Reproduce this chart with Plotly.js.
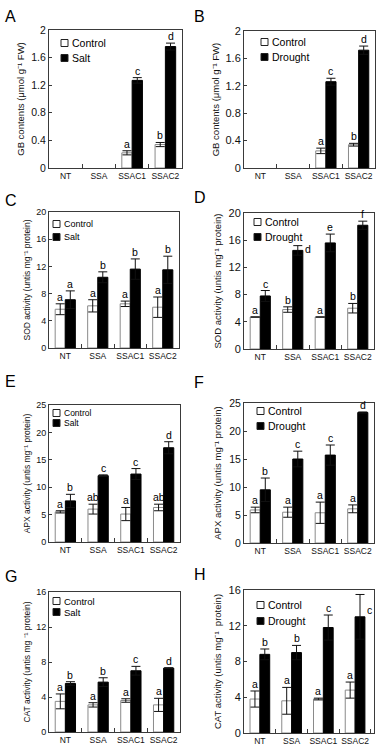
<!DOCTYPE html>
<html><head><meta charset="utf-8">
<script src="https://cdn.plot.ly/plotly-3.0.1.min.js"></script>
<style>html,body{margin:0;padding:0;background:#fff}#chart{width:378px;height:748px}</style>
</head><body><div id="chart"></div>
<script>
const categories = ["NT", "SSA", "SSAC1", "SSAC2"];

// A: GB contents, salt
const gbSaltCtrl = [null, null, 0.22, 0.34];
const gbSaltCtrlErr = [0, 0, 0.03, 0.03];
const gbSalt = [null, null, 1.27, 1.76];
const gbSaltErr = [0, 0, 0.04, 0.05];
const gbSaltCtrlLetters = ["", "", "a", "b"];
const gbSaltLetters = ["", "", "c", "d"];

// B: GB contents, drought
const gbDrCtrl = [null, null, 0.25, 0.34];
const gbDrCtrlErr = [0, 0, 0.04, 0.02];
const gbDr = [null, null, 1.26, 1.72];
const gbDrErr = [0, 0, 0.05, 0.06];
const gbDrCtrlLetters = ["", "", "a", "b"];
const gbDrLetters = ["", "", "c", "d"];

// C: SOD, salt
const sodSaltCtrl = [5.7, 6.2, 6.5, 6.0];
const sodSaltCtrlErr = [0.8, 0.9, 0.4, 1.5];
const sodSalt = [7.1, 10.4, 11.6, 11.5];
const sodSaltErr = [1.3, 0.8, 1.5, 2.0];
const sodSaltCtrlLetters = ["a", "a", "a", "a"];
const sodSaltLetters = ["a", "b", "b", "b"];

// D: SOD, drought
const sodDrCtrl = [4.7, 5.8, 4.7, 6.0];
const sodDrCtrlErr = [0, 0.4, 0, 0.7];
const sodDr = [7.8, 14.5, 15.6, 18.2];
const sodDrErr = [0.8, 0.7, 1.3, 0.6];
const sodDrCtrlLetters = ["a", "b", "a", "b"];
const sodDrLetters = ["c", "d", "e", "f"];

// E: APX, salt
const apxSaltCtrl = [5.5, 6.0, 5.1, 6.3];
const apxSaltCtrlErr = [0.2, 0.9, 1.2, 0.6];
const apxSalt = [7.5, 12.1, 12.4, 17.2];
const apxSaltErr = [1.2, 0.15, 1.0, 1.1];
const apxSaltCtrlLetters = ["a", "ab", "a", "ab"];
const apxSaltLetters = ["b", "c", "c", "d"];

// F: APX, drought
const apxDrCtrl = [5.9, 5.5, 5.4, 6.1];
const apxDrCtrlErr = [0.5, 0.9, 1.9, 0.7];
const apxDr = [9.5, 15.0, 15.7, 23.3];
const apxDrErr = [2.1, 1.4, 1.8, 0.1];
const apxDrCtrlLetters = ["a", "a", "a", "a"];
const apxDrLetters = ["b", "c", "c", "d"];

// G: CAT, salt
const catSaltCtrl = [3.5, 3.1, 3.6, 3.1];
const catSaltCtrlErr = [0.85, 0.25, 0.2, 0.75];
const catSalt = [5.55, 5.7, 7.0, 7.3];
const catSaltErr = [0.2, 0.5, 0.5, 0.05];
const catSaltCtrlLetters = ["a", "a", "a", "a"];
const catSaltLetters = ["b", "b", "c", "d"];

// H: CAT, drought
const catDrCtrl = [3.8, 3.6, 3.8, 4.8];
const catDrCtrlErr = [0.9, 1.5, 0.1, 0.9];
const catDr = [8.8, 9.0, 11.8, 13.0];
const catDrErr = [0.6, 0.8, 1.4, 2.5];
const catDrCtrlLetters = ["a", "a", "a", "a"];
const catDrLetters = ["b", "b", "c", "c"];

const yTitles = {
  gb: "GB contents (μmol g\u207B\u00B9 FW)",
  sod: "SOD activity (untis mg\u207B\u00B9 protein)",
  apx: "APX activity (untis mg\u207B\u00B9 protein)",
  catS: "CAT activity (untis mg \u207B\u00B9 protein)",
  catD: "CAT activity (untis mg\u207B\u00B9  protein)"
};
const treatNames = ["Control", "Salt", "Drought"];

// ---- layout / presentation ----
const W = 378, H = 748;
const FONT = "Liberation Sans, Arial, sans-serif";
const px = v => v / W;
const py = v => 1 - v / H;

const panels = [
  {letter:"A", lx:3, ly:6, box:[49,182,30,168], range:[0,2], dtick:0.4, title:yTitles.gb, tf:9.5, tk:10.5, xf:8.5, stand:4,
   c:gbSaltCtrl, ce:gbSaltCtrlErr, t:gbSalt, te:gbSaltErr, cl:gbSaltCtrlLetters, tl:gbSaltLetters, tname:treatNames[1],
   leg:{sx:61, y1:43, y2:58, fs:10.5}},
  {letter:"B", lx:192, ly:6, box:[244,375,31,168], range:[0,2], dtick:0.4, title:yTitles.gb, tf:9.5, tk:11, xf:8.5, stand:4,
   c:gbDrCtrl, ce:gbDrCtrlErr, t:gbDr, te:gbDrErr, cl:gbDrCtrlLetters, tl:gbDrLetters, tname:treatNames[2],
   leg:{sx:261, y1:42, y2:57, fs:10.5}},
  {letter:"C", lx:3, ly:190, box:[49,179,212,348], range:[0,20], dtick:4, title:yTitles.sod, tf:8.5, tk:9, xf:8.5, stand:4,
   c:sodSaltCtrl, ce:sodSaltCtrlErr, t:sodSalt, te:sodSaltErr, cl:sodSaltCtrlLetters, tl:sodSaltLetters, tname:treatNames[1],
   leg:{sx:53, y1:224, y2:237, fs:9}},
  {letter:"D", lx:192, ly:187, box:[244,374,213,349], range:[0,20], dtick:4, title:yTitles.sod, tf:9.5, tk:11, xf:8.5, stand:5,
   c:sodDrCtrl, ce:sodDrCtrlErr, t:sodDr, te:sodDrErr, cl:sodDrCtrlLetters, tl:sodDrLetters, tname:treatNames[2],
   leg:{sx:254, y1:222, y2:237, fs:10.5}, side:{t:[1]}},
  {letter:"E", lx:3, ly:371, box:[49,180,405,542], range:[0,25], dtick:5, title:yTitles.apx, tf:8.5, tk:9, xf:8.5, stand:4,
   c:apxSaltCtrl, ce:apxSaltCtrlErr, t:apxSalt, te:apxSaltErr, cl:apxSaltCtrlLetters, tl:apxSaltLetters, tname:treatNames[1],
   leg:{sx:53, y1:413, y2:423, fs:8.5}},
  {letter:"F", lx:192, ly:372, box:[244,374,403,543], range:[0,25], dtick:5, title:yTitles.apx, tf:9.5, tk:10.5, xf:8.5, stand:5,
   c:apxDrCtrl, ce:apxDrCtrlErr, t:apxDr, te:apxDrErr, cl:apxDrCtrlLetters, tl:apxDrLetters, tname:treatNames[2],
   leg:{sx:257, y1:411, y2:426, fs:10.5}},
  {letter:"G", lx:3, ly:566, box:[49,180,592,732], range:[0,16], dtick:4, title:yTitles.catS, tf:8.5, tk:9, xf:8.5, stand:4,
   c:catSaltCtrl, ce:catSaltCtrlErr, t:catSalt, te:catSaltErr, cl:catSaltCtrlLetters, tl:catSaltLetters, tname:treatNames[1],
   leg:{sx:53, y1:601, y2:612, fs:9.5}},
  {letter:"H", lx:192, ly:564, box:[244,374,590,733], range:[0,16], dtick:4, title:yTitles.catD, tf:9.5, tk:11, xf:8.5, stand:5,
   c:catDrCtrl, ce:catDrCtrlErr, t:catDr, te:catDrErr, cl:catDrCtrlLetters, tl:catDrLetters, tname:treatNames[2],
   leg:{sx:257, y1:605, y2:621, fs:10.5}, side:{t:[3]}}
];

const BARGAP = 0.38;
const OFF = (1 - BARGAP) / 4;
const AX = "#3a3a3a";

const data = [];
const layout = {
  width: W, height: H,
  margin: {l:0, r:0, t:0, b:0},
  paper_bgcolor: "#fff", plot_bgcolor: "#fff",
  barmode: "group", bargap: BARGAP, bargroupgap: 0,
  showlegend: false,
  font: {family: FONT, color: "#111"},
  annotations: [], shapes: []
};

panels.forEach((p, k) => {
  const n = k + 1;
  const xs = n === 1 ? "" : String(n);
  const xa = "x" + xs, ya = "y" + xs;
  data.push({
    type: "bar", x: categories, y: p.c, name: treatNames[0], xaxis: xa, yaxis: ya,
    marker: {color: "#ffffff", line: {color: "#8a8a8a", width: 1}},
    error_y: {type: "data", array: p.ce, visible: true, color: "#111", thickness: 1, width: 4.5}
  });
  data.push({
    type: "bar", x: categories, y: p.t, name: p.tname, xaxis: xa, yaxis: ya,
    marker: {color: "#000000", line: {color: "#000", width: 1}},
    error_y: {type: "data", array: p.te, visible: true, color: "#111", thickness: 1, width: 4.5}
  });
  const [x0, x1, y0, y1] = p.box;
  layout["xaxis" + xs] = {
    domain: [px(x0), px(x1)], anchor: ya, type: "category",
    showline: true, mirror: true, linecolor: AX, linewidth: 1,
    ticks: "inside", tickson: "boundaries", ticklen: 4, tickcolor: AX,
    tickangle: 0,
    tickfont: {size: p.xf, family: FONT, color: "#111"},
    showgrid: false, zeroline: false, fixedrange: true, automargin: false
  };
  layout["yaxis" + xs] = {
    domain: [py(y1), py(y0)], anchor: xa, range: p.range, tick0: 0, dtick: p.dtick,
    showline: true, mirror: true, linecolor: AX, linewidth: 1,
    ticks: "inside", ticklen: 3, tickcolor: AX,
    tickfont: {size: p.tk, family: FONT, color: "#111"},
    showgrid: false, zeroline: false, fixedrange: true, automargin: false,
    title: {text: p.title, font: {size: p.tf, family: FONT, color: "#111"}, standoff: p.stand}
  };
  // panel letter
  layout.annotations.push({
    xref: "paper", yref: "paper", x: px(p.lx), y: py(p.ly), xanchor: "left", yanchor: "top",
    text: p.letter, showarrow: false, font: {size: 16, family: FONT, color: "#000"}
  });
  // significance letters
  const sideT = (p.side && p.side.t) || [];
  categories.forEach((cat, i) => {
    if (p.cl[i] && p.c[i] != null) {
      layout.annotations.push({
        xref: xa, yref: ya, x: i - OFF, y: p.c[i] + p.ce[i], yanchor: "bottom", xanchor: "center",
        text: p.cl[i], showarrow: false, yshift: -1, font: {size: 10.5, family: FONT, color: "#000"}
      });
    }
    if (p.tl[i] && p.t[i] != null) {
      const side = sideT.indexOf(i) >= 0;
      layout.annotations.push({
        xref: xa, yref: ya, x: i + OFF, y: side ? p.t[i] + p.te[i] * 0.3 : p.t[i] + p.te[i],
        yanchor: side ? "middle" : "bottom", xanchor: side ? "left" : "center", xshift: side ? 5 : 0,
        text: p.tl[i], showarrow: false, yshift: side ? 0 : -1, font: {size: 10.5, family: FONT, color: "#000"}
      });
    }
  });
  // legend (swatches + labels)
  const L = p.leg, s = 7;
  [[L.y1, "#fff", treatNames[0]], [L.y2, "#000", p.tname]].forEach(([yy, col, label]) => {
    layout.shapes.push({
      type: "rect", xref: "paper", yref: "paper",
      x0: px(L.sx), x1: px(L.sx + s), y0: py(yy + s / 2), y1: py(yy - s / 2),
      fillcolor: col, line: {color: "#222", width: 1}
    });
    layout.annotations.push({
      xref: "paper", yref: "paper", x: px(L.sx + s + 2), y: py(yy), xanchor: "left", yanchor: "middle",
      text: label, showarrow: false, font: {size: L.fs, family: FONT, color: "#000"}
    });
  });
});

Plotly.newPlot("chart", data, layout, {displayModeBar: false, staticPlot: true});
</script>
</body></html>
